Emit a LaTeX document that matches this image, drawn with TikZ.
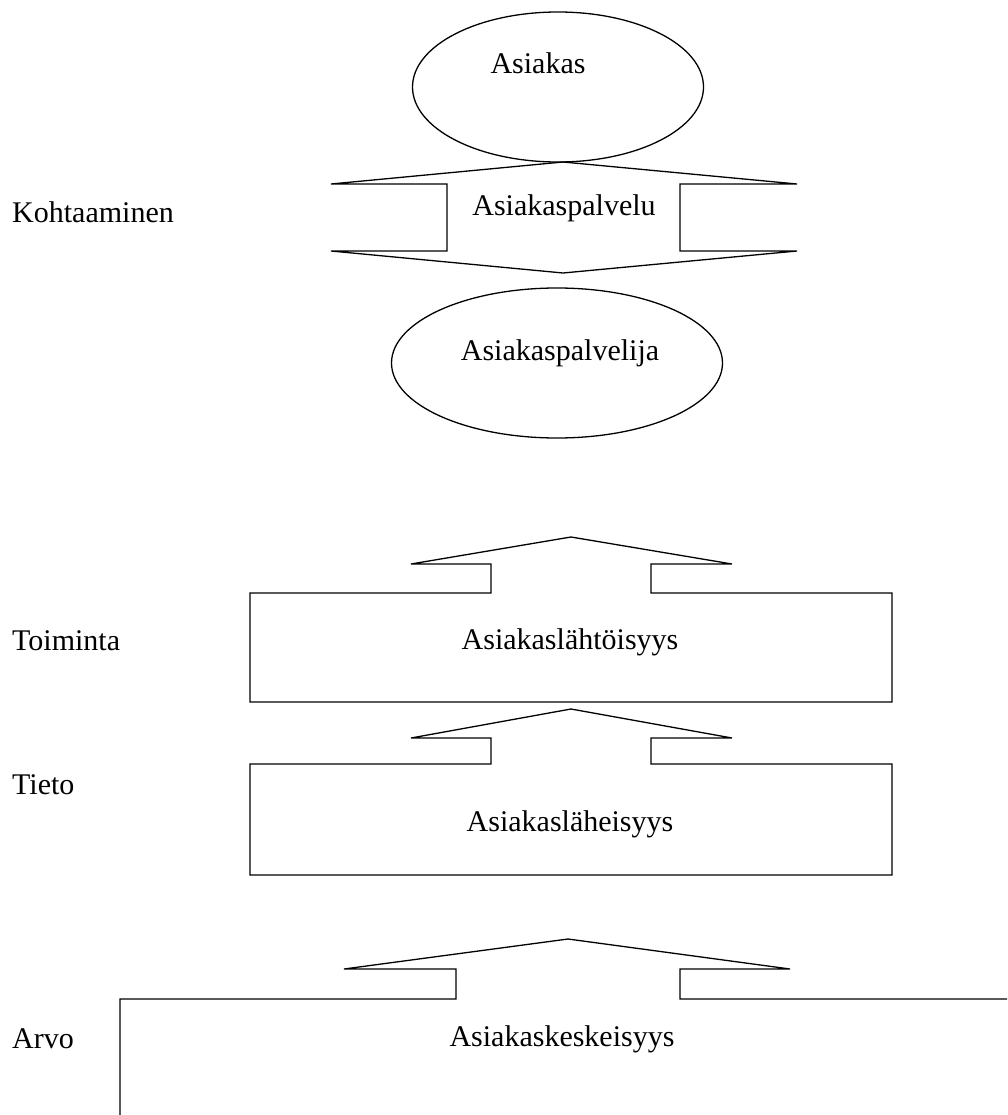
\documentclass[tikz,border=0pt]{standalone}
\usepackage{fontspec}
\setmainfont{Liberation Serif}
\usetikzlibrary{shapes.geometric}
\begin{document}
\begin{tikzpicture}[x=1pt,y=-1pt,
  outline/.style={draw=black,line width=1.3pt,line join=miter},
  txt/.style={font=\fontsize{30}{34}\selectfont,inner sep=0pt},
  oval/.style={outline,ellipse,inner sep=0pt}]
\useasboundingbox (0,0) rectangle (1007,1115);

% top: customer, service encounter, customer servant
\node[oval,minimum width=291pt,minimum height=150pt] (asiakas) at (558,87) {};
\node[txt] (asiakasT) at (538,63) {Asiakas};

\draw[outline] (331,184) -- (563,162) -- (797,184) -- (680,184) -- (680,251)
  -- (797,251) -- (563,273) -- (331,251) -- (447,251) -- (447,184) -- cycle;
\node[txt] (palvelu) at (564,208) {Asiakaspalvelu};

\node[oval,minimum width=331pt,minimum height=150pt] (palvelija) at (557,363) {};
\node[txt] (palvelijaT) at (560,353) {Asiakaspalvelija};

% toiminta level
\draw[outline] (250,593) -- (491,593) -- (491,564) -- (411,564) -- (571,537)
  -- (732,564) -- (651,564) -- (651,593) -- (892,593) -- (892,702) -- (250,702) -- cycle;
\node[txt] (lahtoisyys) at (570,642) {Asiakaslähtöisyys};

% tieto level
\draw[outline] (250,764) -- (491,764) -- (491,738) -- (411,738) -- (571,709)
  -- (732,738) -- (651,738) -- (651,764) -- (892,764) -- (892,875) -- (250,875) -- cycle;
\node[txt] (laheisyys) at (570,824) {Asiakasläheisyys};

% arvo level
\draw[outline] (120,1115) -- (120,999) -- (456,999) -- (456,969) -- (344,969)
  -- (568,939) -- (790,969) -- (680,969) -- (680,999) -- (1007,999);
\node[txt] (keskeisyys) at (562,1039) {Asiakaskeskeisyys};

% level names
\node[txt,anchor=west] (kohtaaminen) at (12,212) {Kohtaaminen};
\node[txt,anchor=west] (toiminta) at (12,641) {Toiminta};
\node[txt,anchor=west] (tieto) at (12,785) {Tieto};
\node[txt,anchor=west] (arvo) at (12,1039) {Arvo};
\end{tikzpicture}
\end{document}
